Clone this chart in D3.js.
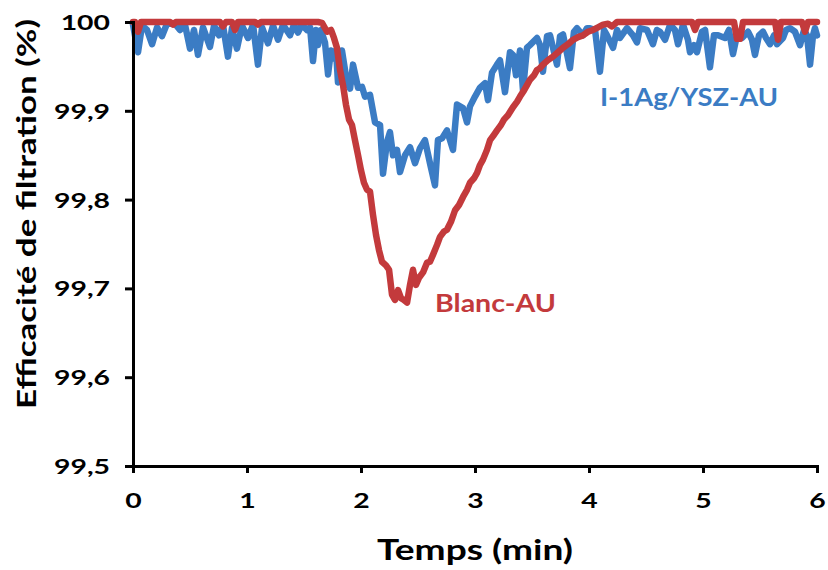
<!DOCTYPE html>
<html><head><meta charset="utf-8">
<script src="https://cdn.jsdelivr.net/npm/d3@7"></script>
<style>
html,body{margin:0;padding:0;background:#fff;}
svg text{font-family:Lato,"Open Sans",sans-serif;font-weight:bold;}
</style></head>
<body><svg id="c" width="828" height="570"></svg>
<script>
const xTicks = [0,1,2,3,4,5,6];
const yTicks = [99.5,99.6,99.7,99.8,99.9,100];
const yTickLabels = ["99,5","99,6","99,7","99,8","99,9","100"];
const xTitle = "Temps (min)";
const yTitle = "Efficacité de filtration (%)";
const seriesNames = ["I-1Ag/YSZ-AU","Blanc-AU"];

const blueT = [0,0.044,0.079,0.123,0.167,0.211,0.254,0.298,0.368,0.412,0.456,0.500,0.535,0.570,0.614,0.675,0.711,0.754,0.789,0.833,0.868,0.912,0.956,1.009,1.053,1.096,1.132,1.184,1.228,1.272,1.316,1.377,1.412,1.447,1.482,1.526,1.553,1.579,1.605,1.623,1.649,1.684,1.711,1.737,1.754,1.781,1.798,1.833,1.877,1.904,1.930,1.974,2.009,2.035,2.079,2.123,2.167,2.193,2.228,2.254,2.281,2.316,2.342,2.386,2.430,2.474,2.518,2.561,2.605,2.649,2.675,2.711,2.754,2.807,2.842,2.895,2.930,2.956,3.000,3.044,3.088,3.114,3.149,3.193,3.219,3.263,3.307,3.333,3.360,3.395,3.421,3.456,3.482,3.544,3.570,3.596,3.632,3.658,3.719,3.746,3.772,3.833,3.868,3.895,3.947,3.982,4.009,4.053,4.096,4.132,4.158,4.211,4.246,4.272,4.333,4.386,4.421,4.447,4.509,4.561,4.596,4.623,4.667,4.711,4.754,4.781,4.825,4.868,4.886,4.921,4.947,4.991,5.018,5.061,5.096,5.132,5.193,5.228,5.263,5.298,5.342,5.395,5.430,5.456,5.491,5.526,5.553,5.588,5.623,5.649,5.702,5.728,5.763,5.807,5.851,5.886,5.912,5.939,5.965,5.982,6.000];
const blueV = [99.997,99.966,99.996,99.991,99.975,99.994,99.984,99.998,99.998,99.991,99.997,99.970,99.991,99.963,99.994,99.972,99.996,99.985,99.997,99.961,99.993,99.970,99.996,99.982,99.997,99.952,99.994,99.976,99.996,99.980,99.997,99.985,99.997,99.988,99.997,99.991,99.994,99.956,99.991,99.974,99.991,99.977,99.941,99.968,99.959,99.968,99.932,99.968,99.932,99.925,99.952,99.926,99.927,99.916,99.918,99.887,99.884,99.829,99.865,99.876,99.850,99.856,99.831,99.850,99.859,99.841,99.858,99.867,99.841,99.816,99.867,99.869,99.878,99.856,99.907,99.903,99.887,99.905,99.916,99.926,99.931,99.912,99.943,99.952,99.957,99.921,99.966,99.963,99.940,99.968,99.923,99.971,99.974,99.982,99.974,99.944,99.984,99.985,99.952,99.984,99.986,99.948,99.989,99.993,99.985,99.993,99.993,99.991,99.944,99.991,99.985,99.971,99.991,99.982,99.993,99.985,99.977,99.993,99.991,99.975,99.991,99.989,99.980,99.997,99.991,99.975,99.997,99.980,99.966,99.974,99.966,99.989,99.991,99.949,99.985,99.985,99.982,99.991,99.964,99.985,99.982,99.989,99.980,99.963,99.985,99.989,99.982,99.975,99.985,99.975,99.982,99.991,99.993,99.989,99.974,99.991,99.985,99.952,99.985,99.993,99.985];

const redT = [0,0.018,0.044,0.070,0.325,0.351,0.377,0.763,0.789,0.816,0.868,0.895,0.921,1.070,1.096,1.123,1.623,1.658,1.702,1.737,1.763,1.789,1.816,1.842,1.868,1.895,1.921,1.947,1.974,2.000,2.026,2.053,2.079,2.105,2.132,2.158,2.184,2.219,2.246,2.272,2.298,2.325,2.351,2.377,2.404,2.430,2.456,2.482,2.509,2.544,2.579,2.605,2.632,2.667,2.693,2.728,2.754,2.789,2.825,2.860,2.895,2.930,2.956,2.991,3.018,3.044,3.070,3.105,3.132,3.167,3.193,3.228,3.254,3.289,3.333,3.368,3.395,3.430,3.456,3.482,3.518,3.544,3.570,3.596,3.640,3.684,3.728,3.772,3.816,3.860,3.904,3.947,3.991,4.035,4.079,4.123,4.167,4.202,4.246,4.904,4.930,4.956,5.272,5.298,5.325,5.351,5.632,5.658,5.684,5.868,5.895,5.921,6.000];
const redV = [100,100,99.989,100,100,99.997,100,100,99.995,100,100,99.991,100,100,99.997,100,100,99.999,99.989,99.991,99.982,99.971,99.946,99.929,99.907,99.890,99.884,99.867,99.850,99.833,99.819,99.811,99.809,99.783,99.760,99.743,99.730,99.726,99.721,99.693,99.687,99.698,99.689,99.687,99.684,99.704,99.721,99.704,99.712,99.718,99.729,99.730,99.738,99.749,99.758,99.764,99.766,99.775,99.788,99.794,99.803,99.811,99.819,99.824,99.830,99.839,99.845,99.856,99.867,99.873,99.878,99.884,99.890,99.895,99.904,99.910,99.916,99.923,99.929,99.935,99.940,99.946,99.948,99.952,99.957,99.961,99.966,99.971,99.975,99.980,99.983,99.985,99.989,99.991,99.994,99.997,99.998,99.995,100,100,99.991,100,100,99.981,99.981,100,100,99.980,100,100,99.989,100,100];

const svg = d3.select("#c");
const x = d3.scaleLinear().domain([0,6]).range([133,817]);
const y = d3.scaleLinear().domain([99.5,100]).range([466,22]);

const yAxis = d3.axisLeft(y).tickValues(yTicks).tickSize(8).tickFormat((d,i)=>yTickLabels[i]);
const xAxis = d3.axisBottom(x).tickValues(xTicks).tickSize(7).tickFormat(d=>String(d));

const line = d3.line().x(d=>x(d[0])).y(d=>y(d[1]));
const blue = blueT.map((t,i)=>[t,blueV[i]]);
const red = redT.map((t,i)=>[t,redV[i]]);

svg.append("path").datum(blue).attr("d",line).attr("fill","none")
  .attr("stroke","#3b7cc4").attr("stroke-width",6.5).attr("stroke-linejoin","round").attr("stroke-linecap","round");
svg.append("path").datum(red).attr("d",line).attr("fill","none")
  .attr("stroke","#c33a3c").attr("stroke-width",6.5).attr("stroke-linejoin","round").attr("stroke-linecap","round");

const gy = svg.append("g").attr("transform","translate(133,0)").call(yAxis);
const gx = svg.append("g").attr("transform","translate(0,466)").call(xAxis);
[gy,gx].forEach(g=>{
  g.select(".domain").attr("stroke","#000").attr("stroke-width",3);
  g.selectAll(".tick line").attr("stroke","#000").attr("stroke-width",3);
  g.selectAll(".tick text").attr("fill","#000").style("font-size","21px").style("font-family","Lato, sans-serif").style("font-weight","bold");
});
gy.selectAll(".tick text").attr("x",-23).attr("dy","0.36em");
gx.selectAll(".tick text").attr("y",34).attr("dy","0.36em");
svg.selectAll(".tick text").each(function(){
  const w = this.getComputedTextLength();
  d3.select(this).attr("textLength", w*1.35).attr("lengthAdjust","spacingAndGlyphs");
});

svg.append("text").attr("x",475).attr("y",560).attr("text-anchor","middle")
  .style("font-size","29px").attr("fill","#000")
  .attr("textLength",196).attr("lengthAdjust","spacingAndGlyphs").text(xTitle);
svg.append("text").attr("transform","translate(36,214) rotate(-90)").attr("text-anchor","middle")
  .style("font-size","26px").attr("fill","#000")
  .attr("textLength",390).attr("lengthAdjust","spacingAndGlyphs").text(yTitle);

svg.append("text").attr("x",600).attr("y",106).style("font-size","24px").attr("fill","#3b7cc4")
  .attr("textLength",178).attr("lengthAdjust","spacingAndGlyphs").text(seriesNames[0]);
svg.append("text").attr("x",435).attr("y",312).style("font-size","25px").attr("fill","#c33a3c")
  .attr("textLength",121).attr("lengthAdjust","spacingAndGlyphs").text(seriesNames[1]);
</script></body></html>
